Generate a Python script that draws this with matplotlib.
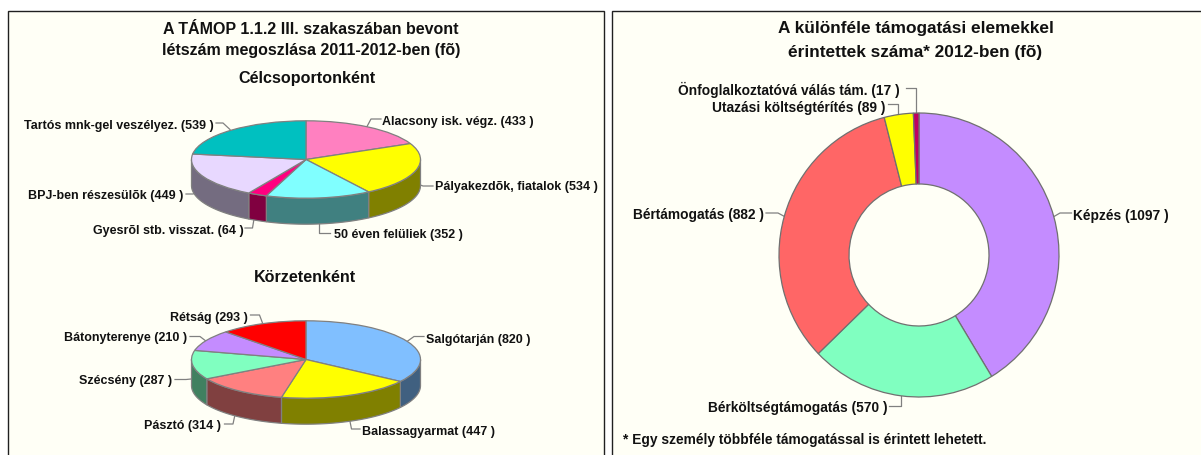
import numpy as np
import matplotlib
matplotlib.use('Agg')
import matplotlib.pyplot as plt
from matplotlib.patches import Rectangle

W, H = 1201, 456
plt.rcParams['font.family'] = ['Liberation Sans', 'DejaVu Sans']

# adatok
csoport_nevek = ['Alacsony isk. végz.', 'Pályakezdõk, fiatalok', '50 éven felüliek',
                 'Gyesrõl stb. visszat.', 'BPJ-ben részesülõk', 'Tartós mnk-gel veszélyez.']
csoport_ertekek = [433, 534, 352, 64, 449, 539]
csoport_szinek = ['#FF80C0', '#FFFF00', '#80FFFF', '#FF0080', '#E8D8FF', '#00C0C0']

korzet_nevek = ['Salgótarján', 'Balassagyarmat', 'Pásztó', 'Szécsény', 'Bátonyterenye', 'Rétság']
korzet_ertekek = [820, 447, 314, 287, 210, 293]
korzet_szinek = ['#80BFFF', '#FFFF00', '#FF8080', '#80FFC0', '#C48CFF', '#FF0000']

tam_nevek = ['Képzés', 'Bérköltségtámogatás', 'Bértámogatás',
             'Utazási költségtérítés', 'Önfoglalkoztatóvá válás tám.']
tam_ertekek = [1097, 570, 882, 89, 17]
tam_szinek = ['#C48CFF', '#80FFC0', '#FF6666', '#FFFF00', '#C00060']

# cimke helyek: (x, y, igazitas, vonal pontjai)
csoport_cimkek = [
    (382.5, 122, 'left', [(381, 120), (371, 120), (367, 127.5)]),
    (435, 187.5, 'left', [(433, 187), (423, 187), (415, 184)]),
    (334, 235, 'left', [(330, 234), (318.5, 234), (318.5, 211.5)]),
    (243.5, 231, 'right', [(245, 229), (252.5, 229), (256, 208)]),
    (183.5, 196, 'right', [(186, 195), (193, 195), (204, 190)]),
    (213.5, 126, 'right', [(216, 124), (223, 124), (230, 130.5)]),
]
korzet_cimkek = [
    (426.5, 340, 'left', [(424, 337.5), (414, 337.5), (407, 342.5)]),
    (362.5, 432, 'left', [(360, 430), (351.5, 430), (347.5, 410)]),
    (221.5, 426, 'right', [(224.5, 425), (233, 425), (237.5, 404)]),
    (172, 381.5, 'right', [(175, 380.5), (186, 380.5), (196, 379.5)]),
    (187.5, 338, 'right', [(190, 337.5), (200, 337.5), (206.5, 342.5)]),
    (248, 318, 'right', [(250.5, 316), (259.5, 316), (262.5, 324)]),
]
tam_cimkek = [
    (1073, 216, 'left', [(1071.5, 214), (1060, 214), (1054, 217.5)]),
    (887, 408, 'right', [(889, 407), (900.5, 407), (900.5, 397)]),
    (764, 215, 'right', [(766, 214), (778, 214), (784.5, 217.5)]),
    (885.5, 108, 'right', [(888, 105), (898, 105), (898, 116)]),
    (900, 90, 'right', [(906, 88.5), (916, 88.5), (916, 115)]),
]

fig = plt.figure(figsize=(W / 100, H / 100), dpi=100, facecolor='white')
bg = fig.add_axes([0, 0, 1, 1])
bg.set_xlim(0, W)
bg.set_ylim(H, 0)
bg.axis('off')

HATTER = '#FFFFF6'
for x0, x1 in [(8, 604), (611.5, 1201.5)]:
    bg.add_patch(Rectangle((x0, 11.5), x1 - x0, 460, fc=HATTER, ec='#202020', lw=1))


def cimke(nevek, ertekek, helyek, meret):
    for nev, v, (x, y, ha, pontok) in zip(nevek, ertekek, helyek):
        xs, ys = zip(*pontok)
        bg.plot(xs, ys, color='#808080', lw=0.9, zorder=5)
        bg.text(x, y, f'{nev} ({v} )', ha=ha, va='center', fontsize=meret,
                fontweight='bold', color='#111111', zorder=6)


def sotet(szin):
    return tuple(c * 0.5 for c in matplotlib.colors.to_rgb(szin))


def kor3d(ertekek, szinek, cx, cy, a, b, melyseg):
    ax = fig.add_axes([(cx - a) / W, (H - cy - b) / H, 2 * a / W, 2 * b / H])
    ax.pie(ertekek, colors=szinek, startangle=90, counterclock=False, radius=1,
           wedgeprops=dict(edgecolor='#808080', linewidth=0.9, clip_on=False, zorder=3))
    ax.set_aspect('auto')
    ax.set_xlim(-1, 1)
    ax.set_ylim(-1, 1)
    # oldalfal az also felkoron
    d = melyseg / b
    hatarok = 90 - np.cumsum([0] + list(ertekek)) / sum(ertekek) * 360
    for i, szin in enumerate(szinek):
        t0 = max(hatarok[i + 1], -180)
        t1 = min(hatarok[i], 0)
        if t0 >= t1:
            # a kor vegen 360 fokkal eltolva is megnezzuk
            t0 = max(hatarok[i + 1] + 360, 180)
            t1 = min(hatarok[i] + 360, 360)
            if t0 >= t1:
                continue
        t = np.radians(np.linspace(t0, t1, 60))
        xs = np.r_[np.cos(t), np.cos(t[::-1])]
        ys = np.r_[np.sin(t), np.sin(t[::-1]) - d]
        ax.fill(xs, ys, fc=sotet(szin), ec='#808080', lw=0.9, clip_on=False, zorder=2)


def fank(ertekek, szinek, cx, cy, rx, ry):
    ax = fig.add_axes([(cx - rx) / W, (H - cy - ry) / H, 2 * rx / W, 2 * ry / H])
    ax.pie(ertekek, colors=szinek, startangle=90, counterclock=False, radius=1,
           wedgeprops=dict(width=0.5, edgecolor='#707070', linewidth=0.9, clip_on=False))
    ax.set_aspect('auto')
    ax.set_xlim(-1, 1)
    ax.set_ylim(-1, 1)


kor3d(csoport_ertekek, csoport_szinek, 306, 160.5, 114.5, 38.7, 26)
kor3d(korzet_ertekek, korzet_szinek, 306, 360.5, 114.5, 38.7, 26)
fank(tam_ertekek, tam_szinek, 919, 256, 140, 142)

cimke(csoport_nevek, csoport_ertekek, csoport_cimkek, 9.0)
cimke(korzet_nevek, korzet_ertekek, korzet_cimkek, 9.0)
cimke(tam_nevek, tam_ertekek, tam_cimkek, 9.9)

cim = dict(ha='center', va='center', fontweight='bold', color='#111111')
bg.text(311, 29, 'A TÁMOP 1.1.2 III. szakaszában bevont', fontsize=11.5, **cim)
bg.text(311.5, 50, 'létszám megoszlása 2011-2012-ben (fõ)', fontsize=11.5, **cim)
bg.text(307, 78, 'Célcsoportonként', fontsize=11.6, **cim)
bg.text(305, 278, 'Körzetenként', fontsize=11.6, **cim)
bg.text(916, 29, 'A különféle támogatási elemekkel', fontsize=12.4, **cim)
bg.text(915, 52, 'érintettek száma* 2012-ben (fõ)', fontsize=12.4, **cim)
bg.text(623, 440, '* Egy személy többféle támogatással is érintett lehetett.', ha='left',
        va='center', fontsize=9.9, fontweight='bold', color='#111111')

fig.savefig('out.png', dpi=100)
